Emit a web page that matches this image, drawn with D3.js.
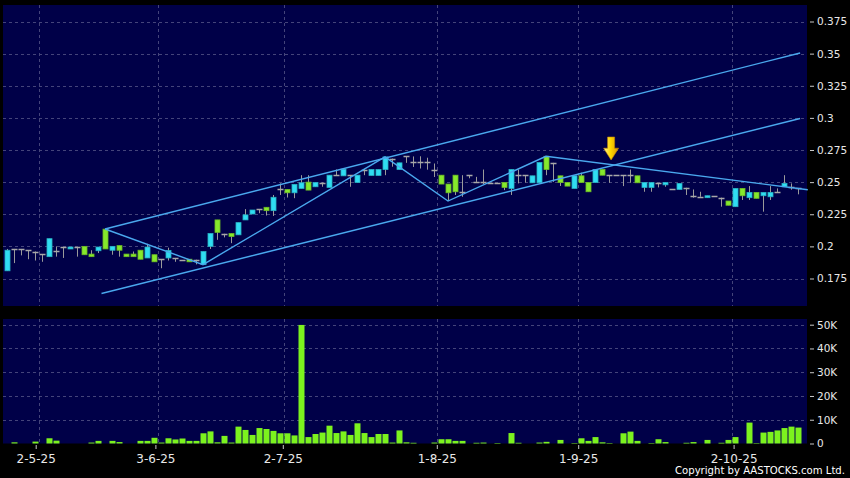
<!DOCTYPE html>
<html><head><meta charset="utf-8">
<script src="https://cdn.jsdelivr.net/npm/d3@7"></script>
<style>body{margin:0;background:#000;} svg{display:block;font-family:"DejaVu Sans",sans-serif;}</style>
</head><body><svg id="c" width="850" height="478"></svg>
<script>
// ---- data ----
const opens  = [.181,.198,.198,.197,.196,.194,.192,.1966,.1995,.198,.1995,.200,.194,.1966,.2134,.197,.2006,.194,.194,.197,
 .191,.1935,.190,.191,.191,.1896,.190,.1896,.1858,.200,.2206,.2098,.210,.209,.2206,.2252,.229,.2304,.2278,.2443,
 .2443,.2417,.2451,.250,.2464,.2497,.2459,.2554,.2549,.2554,.2497,.2593,.2552,.2552,.2598,.2683,.2598,.2701,.2657,.2657,
 .2657,.2593,.2554,.2485,.2554,.2425,.2554,.2502,.2502,.2497,.2497,.2497,.2451,.2554,.2554,.2495,.2495,.2701,.265,.2549,
 .2497,.2451,.2549,.2497,.2497,.2598,.2554,.2554,.2554,.2554,.2549,.2459,.2459,.249,.2479,.2446,.2443,.2456,.2394,.2386,
 .2379,.2394,.2379,.2353,.2309,.2451,.2379,.242,.2394,.2386,.242,.2464,.2464,.2451];
const highs  = [.198,.198,.198,.197,.196,.194,.206,.200,.1995,.1995,.1995,.200,.197,.1995,.2134,.200,.2006,.194,.196,.197,
 .202,.1935,.190,.199,.191,.1896,.190,.1896,.196,.210,.2206,.2098,.210,.2185,.229,.2283,.229,.2304,.240,.249,
 .2443,.2482,.2554,.2554,.2497,.2497,.2554,.2598,.2601,.2554,.2554,.2601,.2598,.2598,.2696,.2683,.265,.2701,.270,.2701,
 .269,.2645,.2554,.2485,.2554,.2554,.2554,.2541,.2598,.2497,.2497,.2497,.2598,.2598,.2554,.2549,.2652,.2701,.265,.2549,
 .2497,.2549,.2573,.2497,.2598,.2598,.2554,.2554,.2554,.2598,.2549,.2497,.2497,.249,.2497,.2446,.249,.2456,.2443,.2425,
 .2394,.2394,.2379,.2353,.2451,.2451,.2469,.242,.242,.2469,.2451,.2554,.249,.2451];
const lows   = [.181,.187,.193,.190,.189,.188,.192,.192,.191,.198,.192,.1935,.192,.1948,.198,.1935,.192,.192,.192,.190,
 .191,.188,.183,.189,.188,.1896,.188,.186,.1858,.198,.2051,.207,.2025,.209,.2206,.2252,.2258,.224,.2237,.240,
 .238,.2375,.2451,.2438,.2464,.2464,.2459,.2554,.2549,.2464,.2497,.2554,.2552,.2552,.2554,.262,.2598,.265,.2618,.2606,
 .2597,.254,.2485,.2353,.240,.2386,.253,.2502,.2485,.2497,.2497,.2438,.240,.249,.2497,.2495,.2495,.2554,.2502,.247,
 .2469,.2451,.2497,.2425,.2497,.2554,.2495,.2554,.2469,.2495,.2495,.2425,.2425,.2459,.2464,.2446,.2443,.240,.2379,.2386,
 .2379,.2394,.2309,.232,.2309,.2361,.2361,.2374,.227,.2361,.242,.2464,.2441,.2405];
const closes = [.197,.198,.198,.197,.196,.194,.206,.1966,.1995,.1995,.1995,.1935,.192,.1995,.198,.200,.197,.192,.192,.190,
 .1995,.188,.190,.1968,.191,.1896,.188,.1896,.196,.210,.2109,.2098,.2077,.2185,.2245,.2283,.229,.2278,.2382,.2443,
 .2417,.2482,.2495,.2438,.2497,.2497,.2554,.2554,.2601,.2554,.2554,.2593,.2598,.2598,.2696,.2683,.265,.2701,.2657,.2657,
 .2657,.2593,.2485,.2417,.2425,.2425,.2554,.2502,.2502,.2497,.2497,.2459,.2598,.2554,.2554,.2549,.2652,.2598,.265,.2497,
 .2469,.2549,.2497,.2425,.2598,.2554,.2554,.2554,.2554,.2554,.2495,.2497,.2497,.249,.2497,.2446,.249,.2456,.2394,.2386,
 .2394,.2394,.2379,.232,.2451,.2394,.242,.2374,.242,.242,.242,.249,.2464,.2451];
const volumes = [0,500,0,0,800,0,2200,1200,0,0,0,0,400,1100,0,1100,600,0,0,1100,
 1100,2400,400,2200,1700,2100,1100,1100,4300,5100,500,3200,400,7100,5700,3600,6500,6100,5300,4300,
 4300,3400,49900,2700,4000,4600,7500,4400,5100,3600,8500,4400,2700,4000,4000,400,5500,500,300,0,
 0,400,1800,1800,1100,1100,0,300,400,0,200,0,4400,300,0,0,400,700,0,1500,
 0,200,2200,1100,2700,500,200,0,4300,5000,1100,0,200,1800,600,0,0,300,600,0,
 1500,0,300,1500,2700,0,8800,200,4600,4900,5500,6500,7100,6700];

const priceTicks = [0.175,0.2,0.225,0.25,0.275,0.3,0.325,0.35,0.375];
const priceTickLabels = ["0.175","0.2","0.225","0.25","0.275","0.3","0.325","0.35","0.375"];
const volTicks = [0,10000,20000,30000,40000,50000];
const volTickLabels = ["0","10K","20K","30K","40K","50K"];
const dateGridIndex = [4.5,21.5,39.5,61.5,81.5,103.5];
const dateTickIndex = [4.1,21.2,39.4,61.4,81.6,103.8];
const dateTickLabels = ["2-5-25","3-6-25","2-7-25","1-8-25","1-9-25","2-10-25"];

const upperChannel = [[14,0.2135],[113.3,0.3505]];
const lowerChannel = [[13.5,0.1633],[113.3,0.2995]];
const zigzag = [[14,0.2135],[28,0.1858],[54,0.2696],[63,0.2353],[77,0.2701],[114.4,0.2441]];
const arrowIndex = 86.3, arrowTop = 0.2851, arrowTip = 0.2672, arrowNeck = 0.2764;

// ---- layout ----
const svg = d3.select("#c");
const P = {l:3, r:807, t:5, b:306};
const V = {t:319, b:443.5};
const x = d3.scaleLinear().domain([0,113]).range([7,798]);
const yP = d3.scaleLinear().domain([0.175,0.375]).range([278.5,21.5]);
const yV = d3.scaleLinear().domain([0,50000]).range([443.5,324.7]);
const bg = "#000048", gridC = "#44447a", txt = "#e8e8e8";
const cUp = "#30dcf2", cDn = "#86e82c", cFlat = "#a8a8a8", wickC = "#9a9a9a";

svg.append("rect").attr("width",850).attr("height",478).attr("fill","#000");
svg.append("rect").attr("x",P.l).attr("y",P.t).attr("width",P.r-P.l).attr("height",P.b-P.t).attr("fill",bg);
svg.append("rect").attr("x",P.l).attr("y",V.t).attr("width",P.r-P.l).attr("height",V.b-V.t).attr("fill",bg);

// grids
const g = svg.append("g").attr("stroke",gridC).attr("stroke-dasharray","3,3").attr("stroke-width",1);
priceTicks.forEach(t=>{ const y=Math.round(yP(t))+0.5;
  g.append("line").attr("x1",P.l).attr("x2",P.r).attr("y1",y).attr("y2",y);});
volTicks.slice(1).forEach(t=>{ const y=Math.round(yV(t))+0.5;
  g.append("line").attr("x1",P.l).attr("x2",P.r).attr("y1",y).attr("y2",y);});
dateGridIndex.forEach(t=>{ const xx=Math.round(x(t))+0.5;
  g.append("line").attr("x1",xx).attr("x2",xx).attr("y1",P.t).attr("y2",P.b);
  g.append("line").attr("x1",xx).attr("x2",xx).attr("y1",V.t).attr("y2",V.b);});

// candles
const cg = svg.append("g");
opens.forEach((o,i)=>{
  const c=closes[i], h=highs[i], l=lows[i], cx=Math.round(x(i))+0.5;
  cg.append("line").attr("x1",cx).attr("x2",cx).attr("y1",yP(h)).attr("y2",yP(l)).attr("stroke",wickC).attr("stroke-width",1);
  if (o===c) {
    const yy=Math.round(yP(o))+0.5;
    cg.append("line").attr("x1",cx-3).attr("x2",cx+3).attr("y1",yy).attr("y2",yy).attr("stroke",cFlat).attr("stroke-width",1.5);
  } else {
    const col = c>o?cUp:cDn;
    const y1=yP(Math.max(o,c)), y2=yP(Math.min(o,c));
    cg.append("rect").attr("x",cx-2.5).attr("y",y1).attr("width",5).attr("height",Math.max(1.5,y2-y1))
      .attr("fill",col).attr("stroke",d3.color(col).darker(0.6)).attr("stroke-width",0.8);
  }
});

// volume
svg.append("g").selectAll("rect").data(volumes).join("rect")
  .attr("x",(d,i)=>Math.round(x(i))-2.5).attr("width",6)
  .attr("y",d=>yV(d)).attr("height",d=>Math.max(0,yV(0)-yV(d)))
  .attr("fill","#7cf21e");

// trend lines
const line = d3.line().x(d=>x(d[0])).y(d=>yP(d[1]));
const lg = svg.append("g").attr("fill","none").attr("stroke","#4aa8ee").attr("stroke-width",1.4);
[upperChannel, lowerChannel, zigzag].forEach(pts=>lg.append("path").attr("d",line(pts)));

// arrow
const defs = svg.append("defs");
const gr = defs.append("linearGradient").attr("id","ag").attr("x1","0").attr("x2","1");
gr.append("stop").attr("offset","0").attr("stop-color","#fff59a");
gr.append("stop").attr("offset","0.45").attr("stop-color","#ffd900");
gr.append("stop").attr("offset","1").attr("stop-color","#d89400");
const ax = x(arrowIndex);
const ap = [[ax-3.5,yP(arrowTop)],[ax+3.5,yP(arrowTop)],[ax+3.5,yP(arrowNeck)],[ax+7.5,yP(arrowNeck)],
  [ax,yP(arrowTip)],[ax-7.5,yP(arrowNeck)],[ax-3.5,yP(arrowNeck)]];
svg.append("path").attr("d","M"+ap.map(p=>p.join(",")).join("L")+"Z").attr("fill","url(#ag)").attr("stroke","#c88a00").attr("stroke-width",0.6);

// axes
const styleAxis = sel => { sel.select(".domain").remove();
  sel.selectAll("line").attr("stroke","#c8c8c8");
  sel.selectAll("text").attr("fill",txt).attr("font-family","DejaVu Sans"); };
svg.append("g").attr("transform","translate(810,0)")
  .call(d3.axisRight(yP).tickValues(priceTicks).tickFormat((d,i)=>priceTickLabels[i]).tickSize(4).tickPadding(3))
  .call(styleAxis).attr("font-size",10.5);
svg.append("g").attr("transform","translate(810,0)")
  .call(d3.axisRight(yV).tickValues(volTicks).tickFormat((d,i)=>volTickLabels[i]).tickSize(4).tickPadding(3))
  .call(styleAxis).attr("font-size",10.5);
svg.append("g").attr("transform","translate(0,445)")
  .call(d3.axisBottom(x).tickValues(dateTickIndex).tickFormat((d,i)=>dateTickLabels[i]).tickSize(4).tickPadding(5))
  .call(styleAxis).attr("font-size",12);

svg.append("text").attr("x",845).attr("y",474).attr("text-anchor","end").attr("fill","#fff")
  .attr("font-size",10.1).text("Copyright by AASTOCKS.com Ltd.");
</script></body></html>
